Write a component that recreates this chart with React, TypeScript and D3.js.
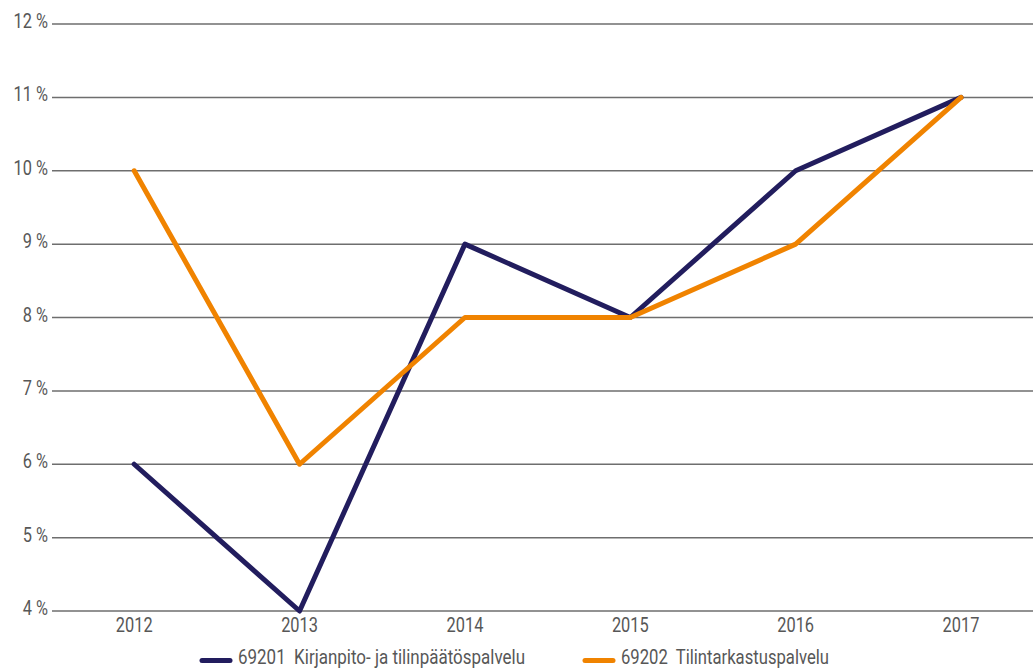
import React from "react";
import * as d3 from "d3";

const years = ["2012", "2013", "2014", "2015", "2016", "2017"];
const seriesNames = ["69201  Kirjanpito- ja tilinpäätöspalvelu", "69202  Tilintarkastuspalvelu"];
const kirjanpito = [6, 4, 9, 8, 10, 11];
const tilintarkastus = [10, 6, 8, 8, 9, 11];
const yTicks = [4, 5, 6, 7, 8, 9, 10, 11, 12];
const colors = ["#221d5e", "#f08300"];

const W = 1033;
const H = 670;
const FONT = "Roboto, sans-serif";
const FS = 21;
const SX = 0.78;
const TXT = "#575757";

function NText({ x, y, anchor, children }: { x: number; y: number; anchor: string; children: React.ReactNode }) {
  return (
    <text
      transform={`translate(${x},${y}) scale(${SX},1)`}
      textAnchor={anchor}
      fontFamily={FONT}
      fontSize={FS}
      fill={TXT}
      style={{ whiteSpace: "pre" }}
    >
      {children}
    </text>
  );
}

export default function App() {
  const x = d3.scaleBand<string>().domain(years).range([51.5, 1043.7]);
  const y = d3.scaleLinear().domain([4, 12]).range([611, 24]);
  const line = d3
    .line<number>()
    .x((_, i) => (x(years[i]) as number) + x.bandwidth() / 2)
    .y((d) => y(d));
  const data = [kirjanpito, tilintarkastus];
  const legendX = [200, 583];
  const legendLen = [287, 208];
  return (
    <svg width={W} height={H} style={{ position: "absolute", left: 0, top: 0 }}>
      <rect width={W} height={H} fill="#fff" />
      {yTicks.map((t) => (
        <g key={t}>
          <line x1={52} x2={W} y1={y(t)} y2={y(t)} stroke="#6e6e6e" strokeWidth={1.5} />
          <NText x={48} y={y(t) + 4} anchor="end">
            {t} %
          </NText>
        </g>
      ))}
      {years.map((yr) => (
        <NText key={yr} x={(x(yr) as number) + x.bandwidth() / 2} y={632} anchor="middle">
          {yr}
        </NText>
      ))}
      {data.map((d, i) => (
        <path
          key={i}
          d={line(d) || ""}
          fill="none"
          stroke={colors[i]}
          strokeWidth={5}
          strokeLinejoin="round"
          strokeLinecap="round"
        />
      ))}
      {seriesNames.map((n, i) => (
        <g key={n}>
          <line
            x1={legendX[i] + 2}
            x2={legendX[i] + 30}
            y1={660.5}
            y2={660.5}
            stroke={colors[i]}
            strokeWidth={5}
            strokeLinecap="round"
          />
          <text
            x={legendX[i] + 38}
            y={664}
            fontFamily={FONT}
            fontSize={FS}
            fill={TXT}
            textLength={legendLen[i]}
            lengthAdjust="spacingAndGlyphs"
            style={{ whiteSpace: "pre" }}
          >
            {n}
          </text>
        </g>
      ))}
    </svg>
  );
}
